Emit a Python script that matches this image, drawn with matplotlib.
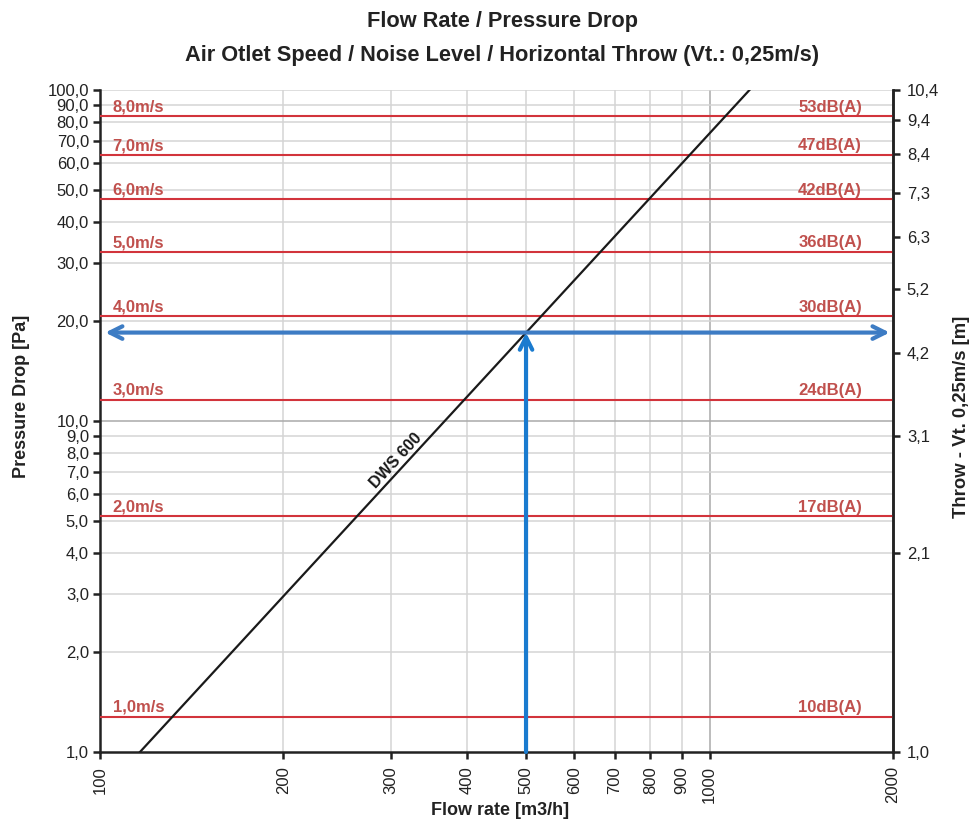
import matplotlib
matplotlib.use("Agg")
import matplotlib.pyplot as plt
from matplotlib.ticker import FixedLocator, NullLocator, NullFormatter

plt.rcParams['font.family'] = ['Liberation Sans', 'DejaVu Sans']

# ---- data ----
x_ticks = [100, 200, 300, 400, 500, 600, 700, 800, 900, 1000, 2000]
y_ticks = [1, 2, 3, 4, 5, 6, 7, 8, 9, 10, 20, 30, 40, 50, 60, 70, 80, 90, 100]
y_ticklabels = ["1,0", "2,0", "3,0", "4,0", "5,0", "6,0", "7,0", "8,0", "9,0", "10,0",
                "20,0", "30,0", "40,0", "50,0", "60,0", "70,0", "80,0", "90,0", "100,0"]
throw_pos = [1, 4, 9, 16, 25, 36, 49, 64, 81, 100]
throw_labels = ["1,0", "2,1", "3,1", "4,2", "5,2", "6,3", "7,3", "8,4", "9,4", "10,4"]

speed_pressure = [1.28, 5.15, 11.6, 20.7, 32.4, 46.7, 63.6, 83.2]
speed_labels = ["1,0m/s", "2,0m/s", "3,0m/s", "4,0m/s", "5,0m/s", "6,0m/s", "7,0m/s", "8,0m/s"]
noise_labels = ["10dB(A)", "17dB(A)", "24dB(A)", "30dB(A)", "36dB(A)", "42dB(A)", "47dB(A)", "53dB(A)"]

dws_flow = [116.3, 1163]
dws_pressure = [1.0, 100.0]

sel_flow = 500
sel_pressure = 18.5

# ---- figure ----
fig = plt.figure(figsize=(9.73, 8.22), dpi=100)
ax = fig.add_axes([100/973, 1-752/822, 793/973, 662/822])
ax.set_xscale('log')
ax.set_yscale('log')
ax.set_xlim(100, 2000)
ax.set_ylim(1, 100)

ax.xaxis.set_major_locator(FixedLocator(x_ticks))
ax.xaxis.set_minor_locator(NullLocator())
ax.xaxis.set_minor_formatter(NullFormatter())
ax.set_xticklabels([str(v) for v in x_ticks], rotation=90, fontsize=12, color='#222222')
ax.yaxis.set_major_locator(FixedLocator(y_ticks))
ax.yaxis.set_minor_locator(NullLocator())
ax.yaxis.set_minor_formatter(NullFormatter())
ax.set_yticklabels(y_ticklabels, fontsize=12, color='#222222')

# grid
for v in x_ticks[1:]:
    c = '#aaaaaa' if v == 1000 else '#d4d4d4'
    ax.axvline(v, color=c, lw=1.1, zorder=1)
for v in y_ticks[1:]:
    c = '#aaaaaa' if v == 10 else '#d4d4d4'
    ax.axhline(v, color=c, lw=1.1, zorder=1)

for s in ['left', 'bottom', 'right']:
    ax.spines[s].set_linewidth(1.8)
    ax.spines[s].set_color('#222222')
ax.spines['top'].set_visible(False)
ax.tick_params(axis='both', which='major', direction='out', length=5, width=1.8, color='#222222', pad=3)
ax.tick_params(axis='x', pad=5)

# red speed lines
for p, sl, nl in zip(speed_pressure, speed_labels, noise_labels):
    ax.axhline(p, color='#d2343c', lw=1.5, zorder=3)
    ax.text(0.016, p * 1.012, sl, transform=ax.get_yaxis_transform(), ha='left', va='bottom',
            fontsize=12, fontweight='bold', color='#c0504d', zorder=4)
    ax.text(0.961, p * 1.012, nl, transform=ax.get_yaxis_transform(), ha='right', va='bottom',
            fontsize=12, fontweight='bold', color='#c0504d', zorder=4)

# DWS line
ax.plot(dws_flow, dws_pressure, color='#1a1a1a', lw=1.6, zorder=5)
ax.text(312, 7.3, "DWS 600", rotation=47.3, rotation_mode='anchor', ha='center', va='bottom',
        fontsize=11.5, fontweight='bold', color='#1a1a1a', zorder=6)

# blue arrows
ax.annotate('', xy=(102, sel_pressure), xytext=(1975, sel_pressure),
            arrowprops=dict(arrowstyle='<->,head_length=0.9,head_width=0.45', color='#3d7cc4', lw=3,
                            shrinkA=0, shrinkB=0),
            zorder=7)
ax.annotate('', xy=(sel_flow, sel_pressure), xytext=(sel_flow, 1.0),
            arrowprops=dict(arrowstyle='->,head_length=0.9,head_width=0.45', color='#1a7bcf', lw=3,
                            shrinkA=0, shrinkB=0),
            zorder=8, annotation_clip=False)

# right axis
ax2 = ax.twinx()
ax2.set_yscale('log')
ax2.set_ylim(1, 100)
ax2.yaxis.set_major_locator(FixedLocator(throw_pos))
ax2.yaxis.set_minor_locator(NullLocator())
ax2.yaxis.set_minor_formatter(NullFormatter())
ax2.set_yticklabels(throw_labels, fontsize=12, color='#222222')
ax2.tick_params(axis='y', direction='out', length=5, width=1.8, color='#222222', pad=5)
for s in ['left', 'bottom', 'top']:
    ax2.spines[s].set_visible(False)
ax2.spines['right'].set_linewidth(1.8)
ax2.spines['right'].set_color('#222222')

# titles / labels
fig.text(0.516, 1-22/822, "Flow Rate / Pressure Drop", ha='center', va='center',
         fontsize=15.7, fontweight='bold', color='#222222')
fig.text(0.516, 1-56/822, "Air Otlet Speed / Noise Level / Horizontal Throw (Vt.: 0,25m/s)",
         ha='center', va='center', fontsize=15.7, fontweight='bold', color='#222222')
fig.text(22/973, 1-396/822, "Pressure Drop [Pa]", rotation=90, ha='center', va='center',
         fontsize=13, fontweight='bold', color='#222222')
fig.text(962/973, 1-417/822, "Throw - Vt. 0,25m/s [m]", rotation=90, ha='center', va='center',
         fontsize=13.3, fontweight='bold', color='#222222')
fig.text(500/973, 1-810/822, "Flow rate [m3/h]", ha='center', va='center',
         fontsize=13, fontweight='bold', color='#222222')

fig.savefig("out.png", dpi=100)
